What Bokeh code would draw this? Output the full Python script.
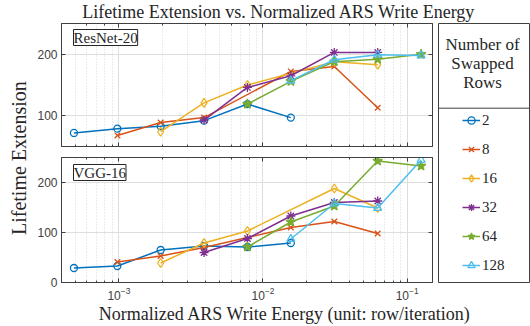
import math
from bokeh.plotting import figure
from bokeh.models import (Range1d, FixedTicker, LinearAxis, LogAxis, Label, Legend,
                          LegendItem, Span, CustomJSTickFormatter)
from bokeh.layouts import column, row
from bokeh.embed import file_html
from bokeh.resources import INLINE

# ---------------- data ----------------
series_names = ["2", "8", "16", "32", "64", "128"]

x_2 = [0.000488, 0.000977, 0.00195, 0.0039, 0.0078, 0.0156]
x_8 = [0.000977, 0.00195, 0.0039, 0.0156, 0.03125, 0.0625]
x_16 = [0.00195, 0.0039, 0.0078, 0.03125, 0.0625]
x_32 = [0.0039, 0.0078, 0.0156, 0.03125, 0.0625]
x_64 = [0.0078, 0.0156, 0.03125, 0.0625, 0.125]
x_128 = [0.0156, 0.03125, 0.0625, 0.125]

resnet_2 = [72, 79, 83, 92, 119, 97]
resnet_8 = [68, 89, 97, 172, 180, 113]
resnet_16 = [74, 121, 150, 188, 183]
resnet_32 = [93, 146, 165, 203, 203]
resnet_64 = [119, 156, 188, 192, 200]
resnet_128 = [157, 191, 199, 198]

vgg_2 = [29, 33, 65, 73, 71, 79]
vgg_8 = [41, 53, 70, 110, 122, 98]
vgg_16 = [39, 79, 103, 188, 149]
vgg_32 = [60, 88, 133, 160, 163]
vgg_64 = [71, 121, 153, 243, 233]
vgg_128 = [87, 158, 149, 245]

top_yticks = [100, 200]
bottom_yticks = [0, 100, 200]

xs = [x_2, x_8, x_16, x_32, x_64, x_128]
resnet = [resnet_2, resnet_8, resnet_16, resnet_32, resnet_64, resnet_128]
vgg = [vgg_2, vgg_8, vgg_16, vgg_32, vgg_64, vgg_128]

# ---------------- style ----------------
SERIF = "Liberation Serif"
SANS = "Liberation Sans"
AX = "#404040"
TXT = "#262626"
colors = ["#0072BD", "#D95319", "#EDB120", "#7E2F8E", "#77AC30", "#4DBEEE"]
markers = ["circle", "x", "diamond", "asterisk", "star", "triangle"]
msizes = [7, 8, 9, 9, 10, 8]
mfill = [False, False, False, False, True, False]


def style_axis(ax, labels=True):
    ax.axis_line_color = AX
    ax.major_tick_line_color = AX
    ax.minor_tick_line_color = AX
    ax.major_tick_in = 4
    ax.major_tick_out = 0
    ax.minor_tick_in = 2
    ax.minor_tick_out = 0
    ax.major_label_text_font = SANS
    ax.major_label_text_font_size = "12px"
    ax.major_label_text_color = AX
    if not labels:
        ax.formatter = CustomJSTickFormatter(code="return ''")
        ax.major_label_standoff = 0
    else:
        ax.major_label_standoff = 4


def make_panel(ydata, ystart, yticks, height, top_b, bottom_b, show_xlabels, name, label_dy):
    p = figure(width=404, height=height, x_axis_type="log",
               x_range=Range1d(4e-4, 0.15), y_range=Range1d(ystart, 250),
               min_border_left=28, min_border_right=5,
               min_border_top=top_b, min_border_bottom=bottom_b,
               output_backend="svg", toolbar_location=None)
    p.background_fill_color = "white"
    p.border_fill_color = "white"
    p.outline_line_color = AX
    p.yaxis.ticker = FixedTicker(ticks=yticks)
    style_axis(p.xaxis[0], labels=show_xlabels)
    style_axis(p.yaxis[0], labels=True)
    p.yaxis[0].minor_tick_line_color = None
    top = LogAxis()
    style_axis(top, labels=False)
    p.add_layout(top, "above")
    right = LinearAxis(ticker=FixedTicker(ticks=yticks))
    style_axis(right, labels=False)
    right.minor_tick_line_color = None
    p.add_layout(right, "right")
    p.xgrid.grid_line_color = "#dedede"
    p.xgrid.minor_grid_line_color = "#d8d8d8"
    p.xgrid.minor_grid_line_dash = "1 2"
    p.ygrid.grid_line_color = "#dedede"
    for i in range(6):
        p.line(xs[i], ydata[i], line_color=colors[i], line_width=1.5)
        p.scatter(xs[i], ydata[i], marker=markers[i], size=msizes[i],
                  line_color=colors[i], line_width=1.3,
                  fill_color=colors[i] if mfill[i] else None)
    lab = Label(x=12, y=height - top_b - bottom_b - label_dy, x_units="screen", y_units="screen",
                text=name, text_font=SERIF, text_font_size="15px", text_color=TXT,
                text_baseline="top", text_align="left",
                border_line_color=TXT, border_line_width=1,
                background_fill_color="white")
    p.add_layout(lab)
    return p


p1 = make_panel(resnet, 50, top_yticks, 130, 1, 6, False, "ResNet-20", 6)
p2 = make_panel(vgg, 0, bottom_yticks, 150, 5, 20, True, "VGG-16", 7)


def blank(width, height, xr, yr):
    f = figure(width=width, height=height, x_range=xr, y_range=yr,
               x_axis_location=None, y_axis_location=None,
               min_border=0, output_backend="svg", toolbar_location=None)
    f.outline_line_color = None
    f.grid.visible = False
    f.background_fill_color = "white"
    f.border_fill_color = "white"
    return f


title_fig = blank(530, 22, Range1d(0, 530), Range1d(22, 0))
title_fig.add_layout(Label(x=278.5, y=1, text="Lifetime Extension vs. Normalized ARS Write Energy",
                           text_font=SERIF, text_font_size="18px", text_color=TXT,
                           text_align="center", text_baseline="top"))

left_fig = blank(33, 280, Range1d(0, 33), Range1d(302, 22))
left_fig.add_layout(Label(x=18, y=167.5, text="Lifetime Extension", angle=math.pi / 2,
                          text_font=SERIF, text_font_size="20px", text_color=TXT,
                          text_align="center", text_baseline="middle"))

xlabel_fig = blank(530, 24, Range1d(0, 530), Range1d(326, 302))
xlabel_fig.add_layout(Label(x=284.5, y=303, text="Normalized ARS Write Energy (unit: row/iteration)",
                            text_font=SERIF, text_font_size="18px", text_color=TXT,
                            text_align="center", text_baseline="top"))

legend_fig = figure(width=93, height=280, x_range=Range1d(438, 529), y_range=Range1d(282, 23),
                    x_axis_location=None, y_axis_location=None,
                    min_border_left=1, min_border_right=1, min_border_top=1, min_border_bottom=20,
                    output_backend="svg", toolbar_location=None)
legend_fig.grid.visible = False
legend_fig.outline_line_color = AX
legend_fig.background_fill_color = "white"
legend_fig.border_fill_color = "white"
items = []
for i in range(6):
    # series data lies far outside this panel's ranges, so only the legend glyphs show
    lr = legend_fig.line(xs[i], resnet[i], line_color=colors[i], line_width=1.5)
    sr = legend_fig.scatter(xs[i], resnet[i], marker=markers[i], size=msizes[i] - 1,
                            line_color=colors[i], line_width=1.3,
                            fill_color=colors[i] if mfill[i] else None)
    items.append(LegendItem(label=series_names[i], renderers=[lr, sr]))
legend = Legend(items=items, location=(24, 3), orientation="vertical",
                glyph_width=18, glyph_height=28, spacing=1, label_standoff=2,
                padding=0, margin=0, border_line_color=None, background_fill_alpha=0,
                label_text_font=SERIF, label_text_font_size="15px", label_text_color=TXT,
                label_height=28)
legend_fig.add_layout(legend, "center")
legend_fig.add_layout(Label(x=482, y=63, text="Number of\nSwapped\nRows",
                            text_font=SERIF, text_font_size="17px", text_color=TXT,
                            text_align="center", text_baseline="middle", text_line_height=0.98))
legend_fig.add_layout(Span(location=107.7, dimension="width", line_color=AX, line_width=1))

layout = column(title_fig, row(left_fig, column(p1, p2), legend_fig), xlabel_fig)

open("out.html", "w").write(file_html(layout, INLINE))
